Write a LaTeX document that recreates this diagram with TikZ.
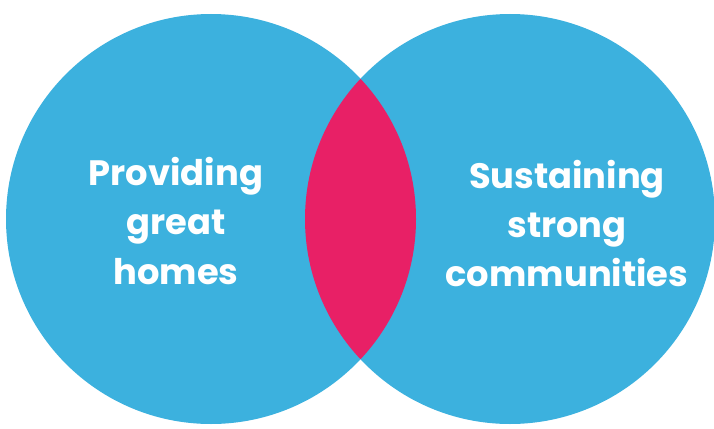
\documentclass[tikz,border=0pt]{standalone}
\usepackage{fontspec}
\setmainfont{Poppins}
\definecolor{vennblue}{RGB}{60,177,222}
\definecolor{vennpink}{RGB}{232,32,102}
\begin{document}
\begin{tikzpicture}[x=1pt,y=-1pt,
  venncircle/.style={circle,fill=vennblue,inner sep=0pt,minimum size=410pt},
  venntext/.style={text=white,align=center,font=\fontsize{35.3}{49}\selectfont\bfseries}]
\useasboundingbox (0,0) rectangle (714,428);
% the two overlapping sets
\node[venncircle] (left) at (211,219) {};
\node[venncircle] (right) at (510,219) {};
% their overlap
\begin{scope}
  \clip (211,219) circle[radius=205];
  \fill[vennpink] (510,219) circle[radius=205];
\end{scope}
% labels
\node[venntext] (lefttext) at (176,221) {Providing\\great\\homes};
\node[venntext] (righttext) at (567,223) {Sustaining\\strong\\communities};
\end{tikzpicture}
\end{document}
